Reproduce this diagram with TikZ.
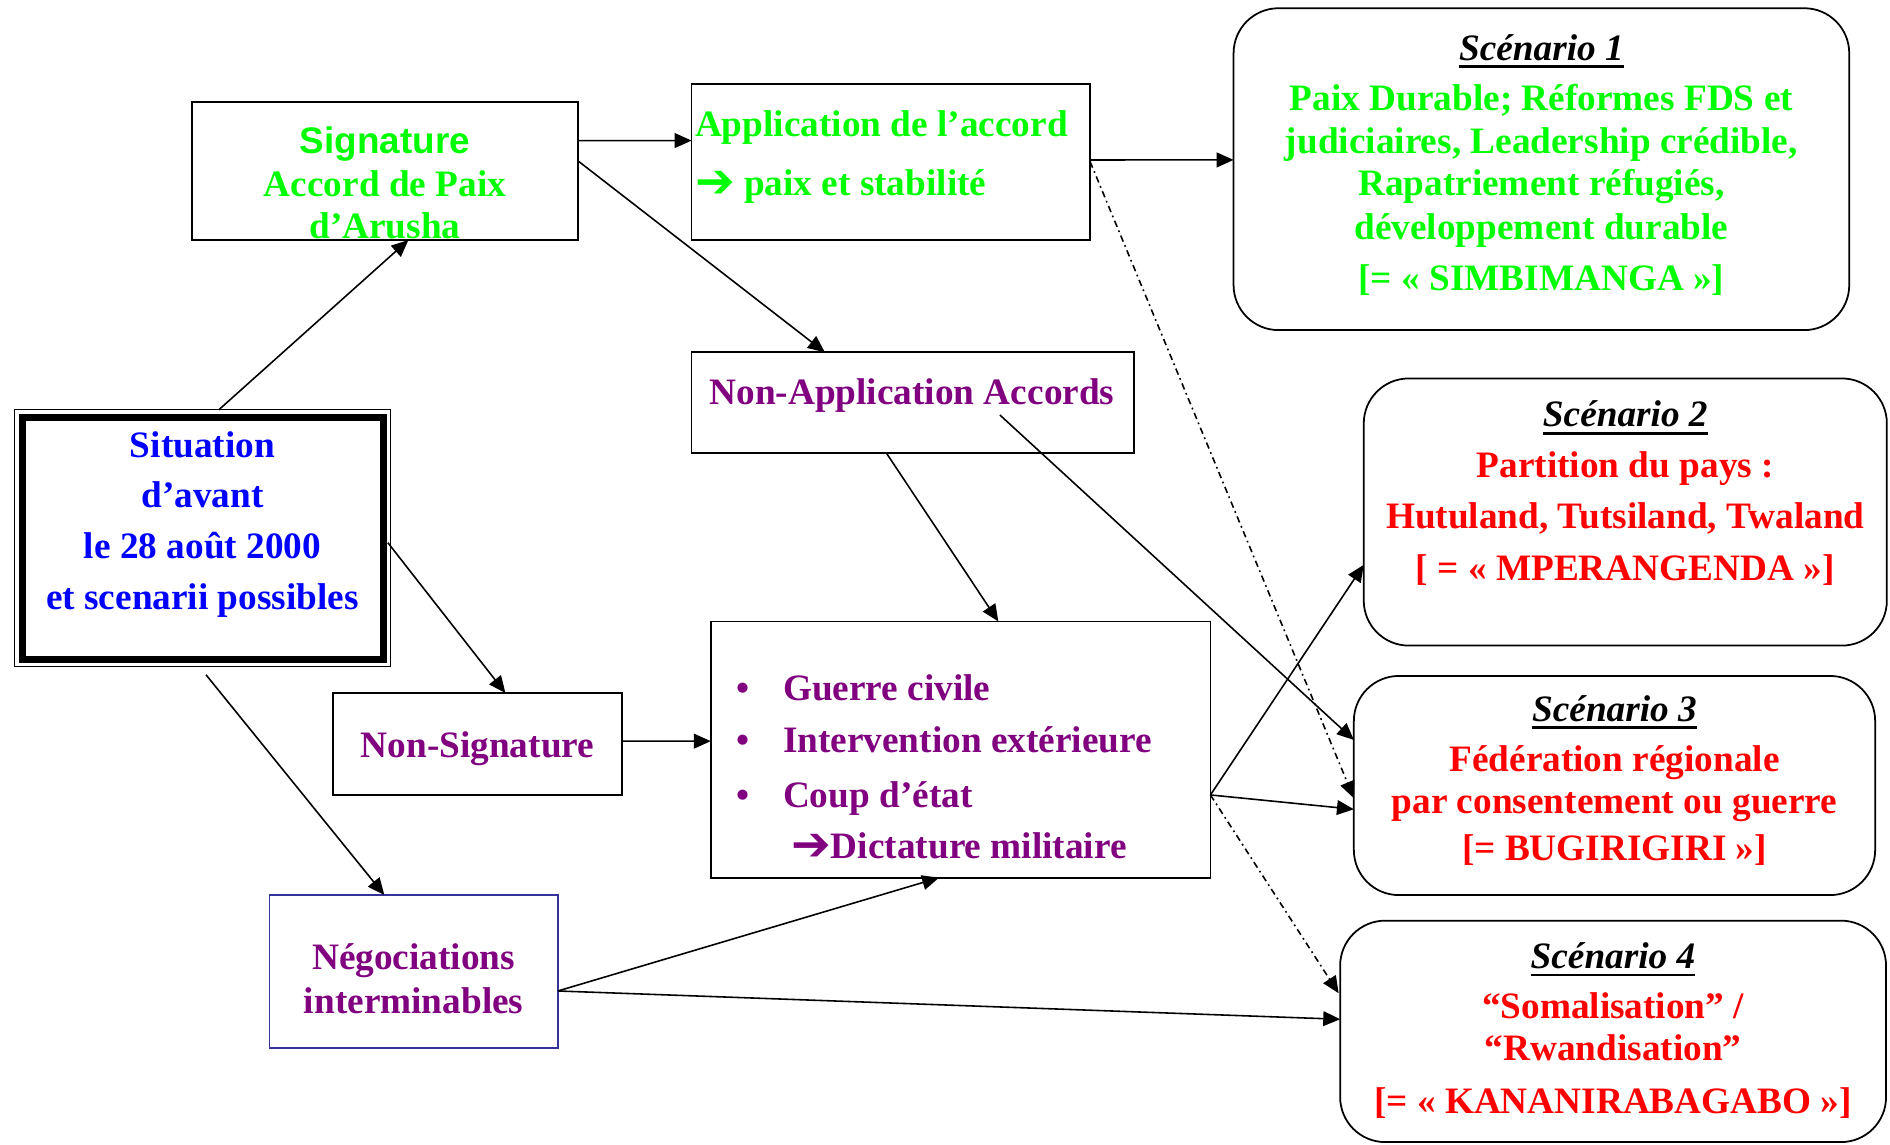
\documentclass[tikz,border=0pt]{standalone}
\usepackage{fontspec}
\setmainfont{Liberation Serif}
\newfontfamily\arialfam{Liberation Sans}
\newfontfamily\djvfam{DejaVu Sans}
\usetikzlibrary{arrows.meta,calc}
\definecolor{grn}{RGB}{0,255,0}
\definecolor{blu}{RGB}{0,0,255}
\definecolor{pur}{RGB}{128,0,128}
\definecolor{rd}{RGB}{255,0,0}
\definecolor{negb}{RGB}{51,51,153}
\newcommand{\mytf}{\fontsize{10.6pt}{12pt}\selectfont\bfseries}
\newcommand{\myarrow}{{\djvfam\fontsize{13.5pt}{12pt}\selectfont\raisebox{-0.6pt}{➔}}}
\begin{document}
\begin{tikzpicture}[x=0.01cm,y=-0.01cm,
  box/.style={draw,line width=0.5pt,inner sep=0,outer sep=0,rectangle},
  scen/.style={box,rounded corners=0.45cm},
  tx/.style={inner sep=0,outer sep=0,anchor=base,font=\mytf},
  txl/.style={tx,anchor=base west},
  ttl/.style={tx,font=\mytf\itshape},
  uline/.style={line width=0.85pt},
  arr/.style={line width=0.45pt,-{Triangle[length=4.8pt,width=4.2pt]}},
  dd/.style={arr,dash pattern=on 1.85pt off 1.1pt on 0.5pt off 1.1pt}]

\useasboundingbox[fill=white] (0,0) rectangle (1890,1144);

% ---------- boxes ----------
\node[box,minimum width=3.86cm,minimum height=1.378cm] (sig) at (385,171.1) {};
\node[box,minimum width=3.983cm,minimum height=1.56cm] (app) at (890.85,162) {};
\node[scen,minimum width=6.153cm,minimum height=3.217cm] (sc1) at (1541.4,169.15) {};
\node[box,minimum width=4.423cm,minimum height=1.01cm] (nonapp) at (912.85,402.8) {};
\node[scen,minimum width=5.228cm,minimum height=2.67cm] (sc2) at (1625.3,512) {};
\node[box,line width=0.3pt,minimum width=3.762cm,minimum height=2.565cm] (sitout) at (202.65,538) {};
\node[box,line width=1.9pt,minimum width=3.612cm,minimum height=2.42cm] (sit) at (202.9,538.3) {};
\node[box,minimum width=2.889cm,minimum height=1.02cm] (nonsig) at (477.75,744) {};
\node[box,minimum width=4.994cm,minimum height=2.561cm] (guerre) at (960.6,749.55) {};
\node[scen,minimum width=5.21cm,minimum height=2.19cm] (sc3) at (1614.5,785.5) {};
\node[box,draw=negb,minimum width=2.882cm,minimum height=1.526cm] (neg) at (413.7,971.3) {};
\node[scen,minimum width=5.456cm,minimum height=2.213cm] (sc4) at (1613.1,1031.35) {};

% ---------- texts ----------
% Signature
\node[tx,text=grn,font=\fontsize{10.5pt}{12pt}\selectfont\arialfam\bfseries] (sigt1) at (385,153.5) {Signature};
\node[tx,text=grn] (sigt2) at (385,196) {Accord de Paix};
\node[tx,text=grn] (sigt3) at (385,238) {d’Arusha};
% Application
\node[txl,text=grn] (appt1) at (695,136) {Application de l’accord};
\node[txl,text=grn] (appt2) at (695,195) {\myarrow\ paix et stabilité};
% Scenario 1
\node[ttl] (s1t) at (1541.4,60) {Scénario 1};
\draw[uline] ([yshift=-1.9pt]s1t.base west) -- ([yshift=-1.9pt]s1t.base east);
\node[tx,text=grn] (s1a) at (1541.4,110) {Paix Durable; Réformes FDS et};
\node[tx,text=grn] (s1b) at (1541.4,153.3) {judiciaires, Leadership crédible,};
\node[tx,text=grn] (s1c) at (1541.4,195) {Rapatriement réfugiés,};
\node[tx,text=grn] (s1d) at (1541.4,239.3) {développement durable};
\node[tx,text=grn] (s1e) at (1541.4,290) {[= « SIMBIMANGA »]};
% Non-Application
\node[tx,text=pur] (nonappt) at (912,404.3) {Non-Application Accords};
% Scenario 2
\node[ttl] (s2t) at (1625.3,426.8) {Scénario 2};
\draw[uline] ([yshift=-1.9pt]s2t.base west) -- ([yshift=-1.9pt]s2t.base east);
\node[tx,text=rd] (s2a) at (1625.3,477.8) {Partition du pays :};
\node[tx,text=rd] (s2b) at (1625.3,528.4) {Hutuland, Tutsiland, Twaland};
\node[tx,text=rd] (s2c) at (1625.3,580) {[ = « MPERANGENDA »]};
% Situation
\node[tx,text=blu] (sitt1) at (202.5,457) {Situation};
\node[tx,text=blu] (sitt2) at (202.5,507) {d’avant};
\node[tx,text=blu] (sitt3) at (202.5,558) {le 28 août 2000};
\node[tx,text=blu] (sitt4) at (202.5,609.5) {et scenarii possibles};
% Non-Signature
\node[tx,text=pur] (nonsigt) at (477.5,757.9) {Non-Signature};
% Guerre box
\node[tx,text=pur] (b1) at (743.4,700.6) {•};
\node[tx,text=pur] (b2) at (743.4,752.7) {•};
\node[tx,text=pur] (b3) at (743.4,807.5) {•};
\node[txl,text=pur] (g1) at (783,700.6) {Guerre civile};
\node[txl,text=pur] (g2) at (783,752.7) {Intervention extérieure};
\node[txl,text=pur] (g3) at (783,807.5) {Coup d’état};
\node[txl,text=pur] (g4) at (791.2,858.5) {\myarrow Dictature militaire};
% Scenario 3
\node[ttl] (s3t) at (1614.5,721.2) {Scénario 3};
\draw[uline] ([yshift=-1.9pt]s3t.base west) -- ([yshift=-1.9pt]s3t.base east);
\node[tx,text=rd] (s3a) at (1614.5,771.2) {Fédération régionale};
\node[tx,text=rd] (s3b) at (1614.5,813.5) {par consentement ou guerre};
\node[tx,text=rd] (s3c) at (1614.5,860) {[= BUGIRIGIRI »]};
% Negociations
\node[tx,text=pur] (negt1) at (413.7,969.5) {Négociations};
\node[tx,text=pur] (negt2) at (413.7,1013.6) {interminables};
% Scenario 4
\node[ttl] (s4t) at (1613,968.3) {Scénario 4};
\draw[uline] ([yshift=-1.9pt]s4t.base west) -- ([yshift=-1.9pt]s4t.base east);
\node[tx,text=rd] (s4a) at (1613,1018.3) {“Somalisation” /};
\node[tx,text=rd] (s4b) at (1613,1060) {“Rwandisation”};
\node[tx,text=rd] (s4c) at (1613,1113.3) {[= « KANANIRABAGABO »]};

% ---------- connectors ----------
\draw[arr] ($(sitout.north west)+(204.5,0)$) -- ($(sig.south west)+(216.5,0)$);
\draw[arr] ($(sig.north east)+(0,38.4)$) -- ($(app.north west)+(0,56.6)$);
\draw[arr] ($(sig.north east)+(0,58.8)$) -- ($(nonapp.north west)+(133.3,0)$);
\draw[arr] ($(app.north east)+(0,76)$) -- ($(sc1.north west)+(0,151.7)$);
\draw[dd]  ($(app.north east)+(0,77.7)$) -- ($(sc3.north west)+(0,122.3)$);
\draw[arr] ($(nonapp.south west)+(195,0)$) -- ($(guerre.north west)+(287.6,0)$);
\draw[arr] ($(nonapp.north west)+(308.3,62.7)$) -- ($(sc3.north west)+(0,64)$);
\draw[arr] ($(sitout.north east)+(-3,133)$) -- ($(nonsig.north west)+(172.2,0)$);
\draw[arr] ($(sitout.south)+(3.4,8.5)$) -- ($(neg.north west)+(114.8,0)$);
\draw[arr] ($(nonsig.north east)+(0,48.2)$) -- ($(guerre.north west)+(0,119.7)$);
\draw[arr] ($(guerre.north east)+(0,173.5)$) -- ($(sc2.north west)+(0,186.4)$);
\draw[arr] ($(guerre.north east)+(0,173.5)$) -- ($(sc3.north west)+(0,133.3)$);
\draw[dd]  ($(guerre.north east)+(0,173.5)$) -- ($(sc4.north west)+(-1.5,72.6)$);
\draw[arr] ($(neg.north east)+(0,96)$) -- ($(guerre.south west)+(228.3,0)$);
\draw[arr] ($(neg.north east)+(0,96)$) -- ($(sc4.north west)+(0,98.6)$);
\end{tikzpicture}
\end{document}
